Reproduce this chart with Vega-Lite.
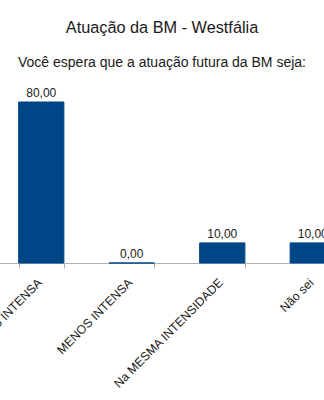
{
  "$schema": "https://vega.github.io/schema/vega-lite/v6.json",
  "width": 362,
  "height": 161,
  "autosize": {"type": "none"},
  "padding": {"left": -4, "right": -34, "top": 102, "bottom": 137},
  "background": "white",
  "title": {
    "text": "Atuação da BM - Westfália",
    "subtitle": "Você espera que a atuação futura da BM seja:",
    "anchor": "middle",
    "frame": "group",
    "dx": -15,
    "font": "Liberation Sans",
    "fontSize": 16.3,
    "fontWeight": "normal",
    "color": "#1a1a1a",
    "subtitleFont": "Liberation Sans",
    "subtitleFontSize": 14,
    "subtitleColor": "#1a1a1a",
    "subtitlePadding": 20,
    "offset": 17
  },
  "data": {
    "values": [
      {"categoria": "MAIS INTENSA", "valor": 80},
      {"categoria": "MENOS INTENSA", "valor": 0},
      {"categoria": "Na MESMA INTENSIDADE", "valor": 10},
      {"categoria": "Não sei", "valor": 10}
    ]
  },
  "config": {
    "view": {"stroke": null},
    "font": "Liberation Sans",
    "locale": {"number": {"decimal": ",", "thousands": ".", "grouping": [3], "currency": ["R$", ""]}}
  },
  "encoding": {
    "x": {
      "field": "categoria",
      "type": "nominal",
      "sort": null,
      "scale": {"paddingInner": 0.5, "paddingOuter": 0.25},
      "axis": {
        "title": null,
        "labelAngle": -45,
        "labelFont": "Liberation Sans",
        "labelFontSize": 12.2,
        "labelColor": "#1a1a1a",
        "labelOffset": -6,
        "domainColor": "#b3b3b3",
        "tickColor": "#b3b3b3",
        "tickSize": 5,
        "tickBand": "extent",
        "labelPadding": 8,
        "labelOverlap": false,
        "labelLimit": 0
      }
    },
    "y": {
      "field": "valor",
      "type": "quantitative",
      "scale": {"domain": [0, 80]},
      "axis": null
    }
  },
  "layer": [
    {
      "mark": {"type": "bar", "color": "#004586", "stroke": "#004586", "strokeWidth": 1}
    },
    {
      "mark": {"type": "text", "dy": -5, "baseline": "alphabetic", "fontSize": 12, "color": "#1a1a1a", "font": "Liberation Sans"},
      "encoding": {
        "text": {"field": "valor", "type": "quantitative", "format": ".2f"}
      }
    }
  ]
}
